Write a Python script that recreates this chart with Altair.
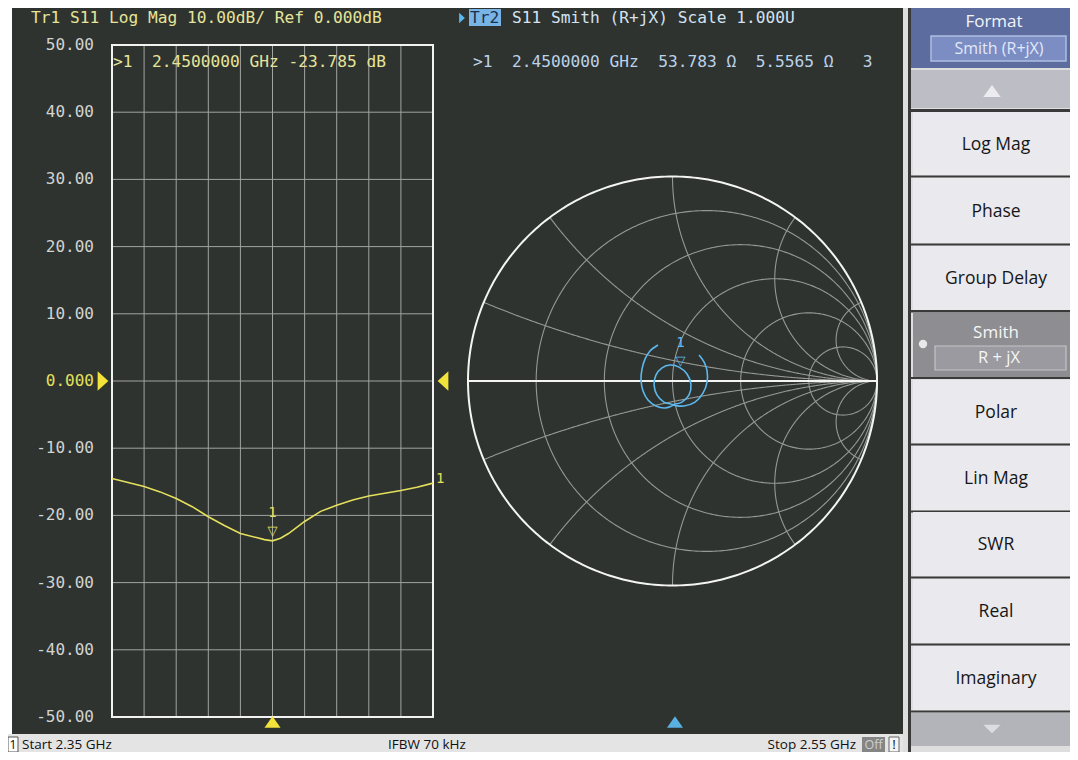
import altair as alt
import numpy as np
import pandas as pd

# ---------------- chart values ----------------
freq_ghz = [2.350, 2.360, 2.370, 2.380, 2.390, 2.400, 2.410, 2.420, 2.430, 2.440,
            2.445, 2.450, 2.455, 2.460, 2.470, 2.480, 2.490, 2.500, 2.510, 2.520,
            2.530, 2.540, 2.550]
s11_db = [-14.5, -15.1, -15.7, -16.5, -17.5, -18.7, -20.2, -21.5, -22.7, -23.3,
          -23.6, -23.785, -23.4, -22.7, -20.9, -19.4, -18.5, -17.7, -17.1, -16.7,
          -16.3, -15.8, -15.2]

db_ticks = [50, 40, 30, 20, 10, 0, -10, -20, -30, -40, -50]
db_tick_labels = ["50.00", "40.00", "30.00", "20.00", "10.00", "0.000",
                  "-10.00", "-20.00", "-30.00", "-40.00", "-50.00"]
freq_ticks = [2.35, 2.37, 2.39, 2.41, 2.43, 2.45, 2.47, 2.49, 2.51, 2.53, 2.55]

# S11 on the Smith chart (reflection coefficient, real / imaginary)
gamma_re = [-0.071, -0.110, -0.134, -0.149, -0.154, -0.144, -0.120, -0.081, -0.037, 0.002,
            -0.042, -0.076, -0.090, -0.081, -0.051, -0.012, 0.032, 0.071, 0.090, 0.081,
            0.046, 0.002, 0.056, 0.110, 0.149, 0.169, 0.169, 0.154, 0.130]
gamma_im = [0.176, 0.147, 0.108, 0.059, 0.005, -0.049, -0.093, -0.122, -0.132, -0.117,
            -0.103, -0.068, -0.020, 0.029, 0.064, 0.078, 0.068, 0.034, -0.015, -0.068,
            -0.103, -0.117, -0.122, -0.103, -0.059, -0.005, 0.049, 0.093, 0.127]

smith_r_circles = [0.2, 0.5, 1.0, 2.0, 5.0]
smith_x_arcs = [0.2, 0.5, 1.0, 2.0, 5.0]

marker_freq = 2.45
marker_db = -23.785
marker_gamma_re = 0.0392
marker_gamma_im = 0.0514

NB = "\u00a0"
title_tr1 = "Tr1 S11 Log Mag 10.00dB/ Ref 0.000dB".replace(" ", NB)
title_tr2 = "S11 Smith (R+jX) Scale 1.000U".replace(" ", NB)
readout_tr1 = ">1  2.4500000 GHz -23.785 dB".replace(" ", NB)
readout_tr2 = ">1  2.4500000 GHz  53.783 \u03a9  5.5565 \u03a9   3".replace(" ", NB)
menu_items = ["Log Mag", "Phase", "Group Delay", "Polar", "Lin Mag", "SWR", "Real", "Imaginary"]
status_texts = ["Start 2.35 GHz", "IFBW 70 kHz", "Stop 2.55 GHz"]

# ---------------- styles ----------------
O = 8  # page margin
MONO = "DejaVu Sans Mono"
SANS = "Open Sans"
SCREEN = "#2e332f"
GRID = "#a2a4a2"
SGRID = "#959995"
YEL = "#e4e05c"
YEL_TXT = "#e6e49a"
YEL_TRI = "#f2e23a"
LBL = "#d2d4d2"
CYAN = "#5cb8ee"
CYAN_TXT = "#bcd2ea"
BTN = "#e9e9ee"

ONE = pd.DataFrame({"k": [0]})


def px(v):
    return alt.value(v - O)


def rect(x1, y1, x2, y2, fill, **kw):
    return alt.Chart(ONE).mark_rect(fill=fill, **kw).encode(
        x=px(x1), x2=px(x2), y=px(y1), y2=px(y2))


def text(s, x, y, color, size, font=SANS, align="left", weight="normal"):
    return alt.Chart(ONE).mark_text(
        text=s, align=align, baseline="middle", font=font, fontSize=size,
        color=color, fontWeight=weight).encode(x=px(x), y=px(y))


def tri(x, y, shape, size, color):
    return alt.Chart(ONE).mark_point(
        shape=shape, size=size, filled=True, color=color, opacity=1,
        strokeWidth=0).encode(x=px(x), y=px(y))


def hline(x1, x2, y, color, w):
    return alt.Chart(ONE).mark_rule(color=color, strokeWidth=w).encode(
        x=px(x1), x2=px(x2), y=px(y))


def vline(x, y1, y2, color, w):
    return alt.Chart(ONE).mark_rule(color=color, strokeWidth=w).encode(
        x=px(x), y=px(y1), y2=px(y2))


TRI_R = "M-0.55,-1L0.55,0L-0.55,1Z"
TRI_L = "M0.55,-1L-0.55,0L0.55,1Z"
TRI_U = "M-1,0.7L0,-0.7L1,0.7Z"
TRI_D = "M-1,-0.5L0,0.5L1,-0.5Z"

# scales
FX = alt.Scale(domain=[2.35, 2.55], range=[112 - O, 433 - O], nice=False, zero=False)
FY = alt.Scale(domain=[-50, 50], range=[717 - O, 45 - O], nice=False, zero=False)
SCX, SCY, SR = 672.5, 381.0, 204.5
SX = alt.Scale(domain=[-1, 1], range=[SCX - SR - O, SCX + SR - O], nice=False, zero=False)
SY = alt.Scale(domain=[-1, 1], range=[SCY + SR - O, SCY - SR - O], nice=False, zero=False)

layers = []

# ---------------- backgrounds ----------------
layers.append(rect(0, 0, 1078, 760, "#ffffff"))
layers.append(rect(12, 6, 904, 734, SCREEN))
layers.append(rect(0, 734, 905, 760, "#e4e4e4"))
layers.append(rect(903, 0, 1078, 760, "#dedede"))
layers.append(vline(909.5, 0, 760, "#3a3a3a", 3))

# ---------------- left: log magnitude ----------------
dbdf = pd.DataFrame({"db": db_ticks, "label": db_tick_labels})
fdf = pd.DataFrame({"f": freq_ticks})
layers.append(alt.Chart(dbdf).mark_rule(color=GRID, strokeWidth=1).encode(
    y=alt.Y("db:Q", scale=FY, axis=None), x=px(112), x2=px(433)))
layers.append(alt.Chart(fdf).mark_rule(color=GRID, strokeWidth=1).encode(
    x=alt.X("f:Q", scale=FX, axis=None), y=px(45), y2=px(717)))
layers.append(rect(112, 45, 433, 717, "#000000", fillOpacity=0, stroke="#f2f2f2", strokeWidth=2))
layers.append(alt.Chart(dbdf).mark_text(
    align="right", baseline="middle", font=MONO, fontSize=16).encode(
    y=alt.Y("db:Q", scale=FY, axis=None), x=px(94), text="label:N",
    color=alt.condition("datum.db == 0", alt.value(YEL), alt.value(LBL))))

trace = pd.DataFrame({"f": freq_ghz, "db": s11_db})
layers.append(alt.Chart(trace).mark_line(color=YEL, strokeWidth=1.6).encode(
    x=alt.X("f:Q", scale=FX, axis=None), y=alt.Y("db:Q", scale=FY, axis=None)))

mk = pd.DataFrame({"f": [marker_freq], "db": [marker_db]})
layers.append(alt.Chart(mk).mark_text(text="\u25bd", font="DejaVu Sans", fontSize=13, color=YEL,
                                      baseline="middle", dy=-10).encode(
    x=alt.X("f:Q", scale=FX, axis=None), y=alt.Y("db:Q", scale=FY, axis=None)))
layers.append(alt.Chart(mk).mark_text(text="1", font=MONO, fontSize=14, color=YEL,
                                      baseline="middle", dy=-28).encode(
    x=alt.X("f:Q", scale=FX, axis=None), y=alt.Y("db:Q", scale=FY, axis=None)))
layers.append(alt.Chart(mk).mark_point(shape=TRI_U, size=260, filled=True, color=YEL_TRI,
                                       opacity=1, strokeWidth=0).encode(
    x=alt.X("f:Q", scale=FX, axis=None), y=px(722)))
end = pd.DataFrame({"f": [freq_ghz[-1]], "db": [s11_db[-1]]})
layers.append(alt.Chart(end).mark_text(text="1", font=MONO, fontSize=14, color=YEL,
                                       align="left", baseline="middle", dx=3, dy=-4).encode(
    x=alt.X("f:Q", scale=FX, axis=None), y=alt.Y("db:Q", scale=FY, axis=None)))

zero = pd.DataFrame({"db": [0]})
layers.append(alt.Chart(zero).mark_point(shape=TRI_R, size=380, filled=True, color=YEL_TRI,
                                         opacity=1, strokeWidth=0).encode(
    y=alt.Y("db:Q", scale=FY, axis=None), x=px(103)))
layers.append(alt.Chart(zero).mark_point(shape=TRI_L, size=380, filled=True, color=YEL_TRI,
                                         opacity=1, strokeWidth=0).encode(
    y=alt.Y("db:Q", scale=FY, axis=None), x=px(443)))

layers.append(text(title_tr1, 31, 18, YEL_TXT, 16.2, MONO))
layers.append(text(readout_tr1, 113, 62, YEL_TXT, 16.2, MONO))

# ---------------- right: Smith chart ----------------
def gam(z):
    return (z - 1) / (z + 1)

rows = []
gid = 0
t = np.linspace(-np.pi / 2 * 0.9995, np.pi / 2 * 0.9995, 500)
for r in smith_r_circles:
    g = gam(r + 1j * np.tan(t))
    for i, v in enumerate(g):
        rows.append({"gr": v.real, "gi": v.imag, "id": gid, "i": i})
    gid += 1
u = np.linspace(0, np.pi / 2 * 0.9995, 400)
for xv in smith_x_arcs:
    for s in (1, -1):
        g = gam(np.tan(u) + 1j * s * xv)
        for i, v in enumerate(g):
            rows.append({"gr": v.real, "gi": v.imag, "id": gid, "i": i})
        gid += 1
gridf = pd.DataFrame(rows)
layers.append(alt.Chart(gridf).mark_line(color=SGRID, strokeWidth=1.1).encode(
    x=alt.X("gr:Q", scale=SX, axis=None), y=alt.Y("gi:Q", scale=SY, axis=None),
    detail="id:N", order="i:Q"))

th = np.linspace(0, 2 * np.pi, 361)
outer = pd.DataFrame({"gr": np.cos(th), "gi": np.sin(th), "i": np.arange(361)})
layers.append(alt.Chart(outer).mark_line(color="#f4f4f4", strokeWidth=2).encode(
    x=alt.X("gr:Q", scale=SX, axis=None), y=alt.Y("gi:Q", scale=SY, axis=None), order="i:Q"))
axisdf = pd.DataFrame({"a": [-1.0], "b": [1.0], "c": [0.0]})
layers.append(alt.Chart(axisdf).mark_rule(color="#f4f4f4", strokeWidth=2).encode(
    x=alt.X("a:Q", scale=SX, axis=None), x2="b:Q", y=alt.Y("c:Q", scale=SY, axis=None)))

strace = pd.DataFrame({"gr": gamma_re, "gi": gamma_im, "i": range(len(gamma_re))})
layers.append(alt.Chart(strace).mark_line(color=CYAN, strokeWidth=1.6, interpolate="cardinal").encode(
    x=alt.X("gr:Q", scale=SX, axis=None), y=alt.Y("gi:Q", scale=SY, axis=None), order="i:Q"))
smk = pd.DataFrame({"gr": [marker_gamma_re], "gi": [marker_gamma_im]})
layers.append(alt.Chart(smk).mark_text(text="\u25bd", font="DejaVu Sans", fontSize=13, color=CYAN,
                                       baseline="middle", dy=-9).encode(
    x=alt.X("gr:Q", scale=SX, axis=None), y=alt.Y("gi:Q", scale=SY, axis=None)))
layers.append(alt.Chart(smk).mark_text(text="1", font=MONO, fontSize=14, color=CYAN,
                                       baseline="middle", dy=-27).encode(
    x=alt.X("gr:Q", scale=SX, axis=None), y=alt.Y("gi:Q", scale=SY, axis=None)))
layers.append(tri(675, 722, TRI_U, 260, "#5ab0e0"))

layers.append(tri(462, 18, TRI_R, 110, "#5ab8f0"))
layers.append(rect(469, 9, 501, 26, "#78b4e6"))
layers.append(text("Tr2", 470, 18, "#1c3050", 16.2, MONO))
layers.append(text(title_tr2, 512, 18, "#d4e2f2", 16.2, MONO))
layers.append(text(readout_tr2, 473, 62, CYAN_TXT, 16.2, MONO))

# ---------------- right-hand softkey panel ----------------
layers.append(rect(911, 4, 1078, 68, "#5c6c9e"))
layers.append(text("Format", 994, 22, "#f2f4fa", 17, SANS, "center"))
layers.append(rect(931, 36, 1066, 61, "#7b8dc3", stroke="#aebde2", strokeWidth=1.5))
layers.append(text("Smith (R+jX)", 999, 48.5, "#e2e8f8", 16, SANS, "center"))
layers.append(rect(911, 70, 1078, 108, "#bdbdc5"))
layers.append(tri(992, 91, TRI_U, 300, "#ececf0"))
layers.append(rect(911, 109, 1078, 112, "#3a3a3a"))

btn_bounds = [(112, 175), (178, 243), (246, 310), (380, 443), (446, 510), (512, 576), (579, 643), (646, 710)]
for label, (y1, y2) in zip(menu_items, btn_bounds):
    layers.append(rect(913, y1, 1078, y2, BTN))
    layers.append(text(label, 996, (y1 + y2) / 2 + 1, "#161616", 17.5, SANS, "center"))
    layers.append(hline(911, 1078, y2 + 1.5, "#3a3a3a", 2))

# selected Smith key
layers.append(rect(913, 313, 1078, 377, "#8d8d92"))
layers.append(text("Smith", 996, 333, "#f6f6f6", 17, SANS, "center"))
layers.append(rect(935, 346, 1066, 370, "#9a9aa0", stroke="#c4c4c8", strokeWidth=1.2))
layers.append(text("R + jX", 999, 358, "#f6f6f6", 16.5, SANS, "center"))
layers.append(alt.Chart(ONE).mark_point(shape="circle", size=70, filled=True, color="#e8e8ea",
                                        opacity=1).encode(x=px(923), y=px(344)))
layers.append(vline(1072, 336, 348, "#3a3a3a", 1.5))
layers.append(vline(1072, 404, 418, "#3a3a3a", 1.5))
layers.append(hline(911, 1078, 311, "#3a3a3a", 2))
layers.append(hline(911, 1078, 378, "#3a3a3a", 2))

layers.append(rect(911, 713, 1078, 746, "#b3b3ba"))
layers.append(tri(992, 729, TRI_D, 300, "#dcdce2"))

# ---------------- status bar ----------------
layers.append(rect(8, 737, 18, 752, "#ffffff", stroke="#555555", strokeWidth=1))
layers.append(text("1", 13, 744.5, "#111111", 13, SANS, "center"))
layers.append(text(status_texts[0], 22, 744.5, "#111111", 13.5, SANS))
layers.append(text(status_texts[1], 388, 744.5, "#111111", 13.5, SANS))
layers.append(text(status_texts[2], 856, 744.5, "#111111", 13.5, SANS, "right"))
layers.append(rect(862, 737, 885, 752, "#858585"))
layers.append(text("Off", 873.5, 744.5, "#cfcfcf", 12.5, SANS, "center"))
layers.append(rect(889, 737, 899, 752, "#f4f4f4", stroke="#666666", strokeWidth=1))
layers.append(text("!", 894, 744.5, "#111111", 13.5, SANS, "center"))

chart = alt.layer(*layers).resolve_scale(x="independent", y="independent").properties(
    width=1062, height=744, padding=0,
    autosize=alt.AutoSizeParams(type="none"),
).configure_view(stroke=None)

chart.save("out.html", embed_options={"renderer": "svg", "actions": False})
